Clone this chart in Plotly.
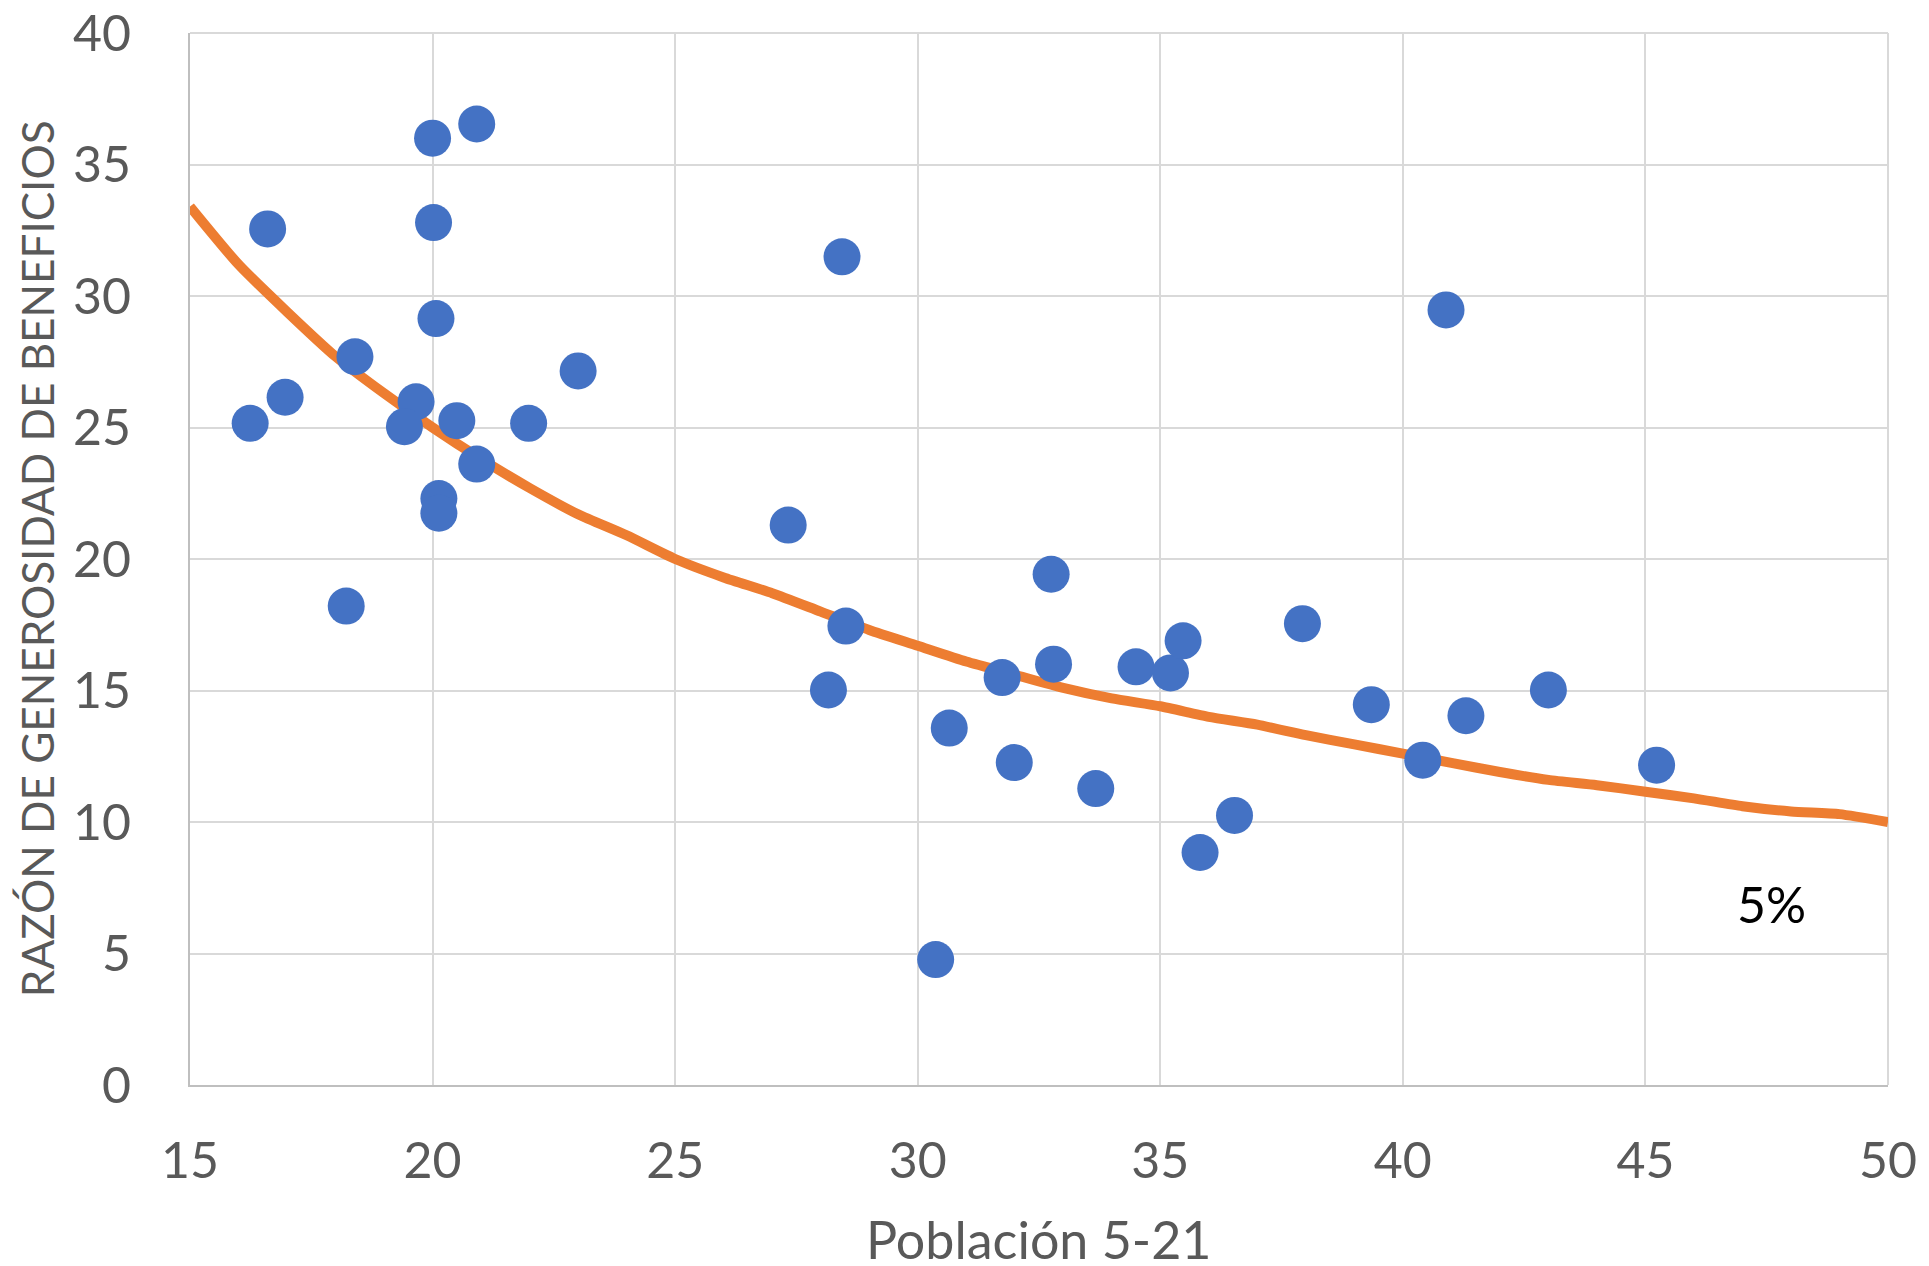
import plotly.graph_objects as go

# Scatter data: Población 5-21 (x) vs Razón de generosidad de beneficios (y)
pob_x = [16.6, 16.24, 16.96, 18.4, 18.22, 20.0, 20.91, 20.02, 20.07, 19.66,
         19.42, 20.5, 20.91, 20.13, 20.13, 21.98, 23.0, 28.44, 27.33, 28.52,
         28.16, 30.37, 30.65, 31.74, 31.99, 32.75, 32.8, 33.67, 34.5, 35.21,
         35.47, 35.82, 36.53, 37.93, 39.35, 40.41, 40.89, 41.3, 43.0, 45.23]
razon_y = [32.55, 25.16, 26.15, 27.69, 18.21, 36.0, 36.54, 32.79, 29.14, 25.98,
           25.03, 25.26, 23.61, 22.3, 21.74, 25.16, 27.15, 31.49, 21.29, 17.45,
           15.02, 4.77, 13.57, 15.49, 12.26, 19.42, 16.0, 11.27, 15.9, 15.67,
           16.89, 8.84, 10.25, 17.54, 14.46, 12.35, 29.47, 14.04, 15.02, 12.16]

# Curve labelled "5%"
curva_x = list(range(15, 51))
curva_y = [33.4, 31.2, 29.4, 27.7, 26.3, 25.0, 23.8, 22.7, 21.7, 20.9,
           20.0, 19.3, 18.7, 18.0, 17.3, 16.7, 16.1, 15.6, 15.1, 14.7,
           14.4, 14.0, 13.7, 13.3, 12.95, 12.6, 12.25, 11.9, 11.6, 11.4,
           11.15, 10.9, 10.6, 10.4, 10.3, 10.0]

x_ticks = [15, 20, 25, 30, 35, 40, 45, 50]
y_ticks = [0, 5, 10, 15, 20, 25, 30, 35, 40]

FONT = "Lato"
GRAY = "#595959"
GRID = "#D9D9D9"

fig = go.Figure()
fig.add_trace(go.Scatter(x=curva_x, y=curva_y, mode="lines",
                         line=dict(color="#ED7D31", width=10, shape="spline", smoothing=0.6),
                         showlegend=False, hoverinfo="skip"))
fig.add_trace(go.Scatter(x=pob_x, y=razon_y, mode="markers",
                         marker=dict(color="#4472C4", size=37),
                         showlegend=False))

fig.update_layout(
    width=1929, height=1266,
    margin=dict(l=182, r=49, t=25, b=189, autoexpand=False),
    paper_bgcolor="white", plot_bgcolor="white",
    font=dict(family=FONT, color=GRAY),
    xaxis=dict(range=[15, 50], tickvals=x_ticks, ticktext=[str(v) for v in x_ticks],
               showgrid=True, gridcolor=GRID, gridwidth=2,
               showline=True, linecolor="#BFBFBF", linewidth=2, mirror=False,
               zeroline=False, ticks="", ticklabelstandoff=31, automargin=False,
               ticklabeloverflow="allow",
               tickfont=dict(size=50, color=GRAY, family=FONT)),
    yaxis=dict(range=[0, 40], tickvals=y_ticks, ticktext=[str(v) for v in y_ticks],
               showgrid=True, gridcolor=GRID, gridwidth=2,
               showline=True, linecolor="#BFBFBF", linewidth=2,
               zeroline=False, ticks="", ticklabelstandoff=47, automargin=False,
               ticklabeloverflow="allow",
               tickfont=dict(size=50, color=GRAY, family=FONT)),
    shapes=[
        dict(type="line", xref="paper", yref="paper", x0=0, x1=1, y0=1, y1=1,
             line=dict(color=GRID, width=2), layer="below"),
        dict(type="line", xref="paper", yref="paper", x0=1, x1=1, y0=0, y1=1,
             line=dict(color=GRID, width=2), layer="below"),
    ],
    annotations=[
        dict(text="Población 5-21", xref="paper", yref="paper", x=0.5, y=-0.146,
             xanchor="center", yanchor="middle", showarrow=False,
             font=dict(size=52, color=GRAY, family=FONT)),
        dict(text="RAZÓN DE GENEROSIDAD DE BENEFICIOS", xref="paper", yref="paper",
             x=-0.090, y=0.5, textangle=-90, xanchor="center", yanchor="middle",
             showarrow=False, font=dict(size=44, color=GRAY, family=FONT)),
        dict(text="5%", xref="x", yref="y", x=47.6, y=6.9, showarrow=False,
             xanchor="center", yanchor="middle",
             font=dict(size=50, color="black", family=FONT)),
    ],
)
fig.write_html("out.html")
